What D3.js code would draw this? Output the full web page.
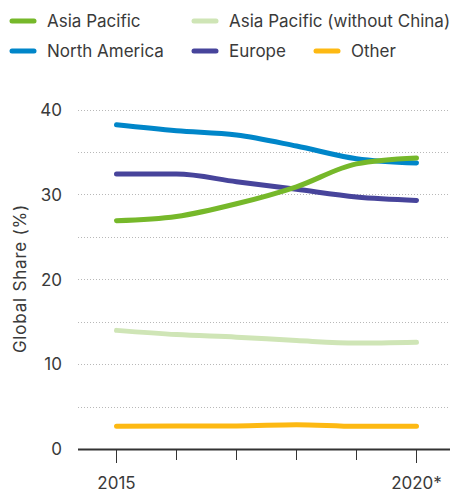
<!DOCTYPE html>
<html><head><meta charset="utf-8">
<script src="https://cdn.jsdelivr.net/npm/d3@7"></script>
<style>
html,body{margin:0;padding:0;background:#fff;}
svg{display:block;font-family:Inter, Roboto, sans-serif;}
</style></head>
<body>
<svg id="chart" width="450" height="494"></svg>
<script>
const years = [2015, 2016, 2017, 2018, 2019, 2020];
const yearLabels = ["2015", "", "", "", "", "2020*"];
const seriesNames = ["Asia Pacific", "Asia Pacific (without China)", "North America", "Europe", "Other"];
const asiaPacific = [26.9, 27.4, 28.9, 30.9, 33.6, 34.3];
const asiaPacificExChina = [14.0, 13.5, 13.2, 12.8, 12.5, 12.6];
const northAmerica = [38.2, 37.5, 37.0, 35.7, 34.2, 33.7];
const europe = [32.4, 32.4, 31.5, 30.6, 29.7, 29.3];
const other = [2.7, 2.75, 2.75, 2.9, 2.7, 2.7];
const yTicks = [0, 10, 20, 30, 40];
const gridTicks = [5, 10, 15, 20, 25, 30, 35, 40];

const colors = {
  "Asia Pacific": "#76b82a",
  "Asia Pacific (without China)": "#cfe5b6",
  "North America": "#0086c9",
  "Europe": "#47449b",
  "Other": "#fdb913"
};
const seriesData = {
  "Asia Pacific": asiaPacific,
  "Asia Pacific (without China)": asiaPacificExChina,
  "North America": northAmerica,
  "Europe": europe,
  "Other": other
};

const svg = d3.select("#chart");
const x = d3.scalePoint().domain(years).range([116.5, 416.5]);
const y = d3.scaleLinear().domain([0, 40]).range([449.3, 109.5]);

// gridlines
svg.append("g").selectAll("line").data(gridTicks).join("line")
  .attr("x1", 78).attr("x2", 450)
  .attr("y1", d => Math.round(y(d)) + 0.5).attr("y2", d => Math.round(y(d)) + 0.5)
  .attr("stroke", "#b8b8b8").attr("stroke-width", 1).attr("stroke-dasharray", "1,2");

// y labels
svg.append("g").selectAll("text").data(yTicks).join("text")
  .attr("x", 62).attr("y", d => y(d)).attr("dy", "0.36em")
  .attr("text-anchor", "end").attr("font-size", 17).attr("fill", "#3a3a3a")
  .text(d => d);

// y title
svg.append("text")
  .attr("transform", "translate(26,278.5) rotate(-90)")
  .attr("text-anchor", "middle").attr("font-size", 17).attr("fill", "#3a3a3a")
  .attr("letter-spacing", 0.8)
  .text("Global Share (%)");

// lines
const line = d3.line().x((d, i) => x(years[i])).y(d => y(d)).curve(d3.curveMonotoneX);
const order = ["Asia Pacific (without China)", "Other", "Europe", "North America", "Asia Pacific"];
svg.append("g").selectAll("path").data(order).join("path")
  .attr("d", n => line(seriesData[n]))
  .attr("fill", "none").attr("stroke", n => colors[n])
  .attr("stroke-width", 5).attr("stroke-linecap", "round").attr("stroke-linejoin", "round");

// x axis
svg.append("line").attr("x1", 78).attr("x2", 450).attr("y1", 449.5).attr("y2", 449.5)
  .attr("stroke", "#333").attr("stroke-width", 2);
svg.append("g").selectAll("line").data(years).join("line")
  .attr("x1", d => x(d)).attr("x2", d => x(d))
  .attr("y1", 449.5).attr("y2", (d, i) => (i === 0 || i === years.length - 1) ? 463 : 460)
  .attr("stroke", "#333").attr("stroke-width", 1);
svg.append("g").selectAll("text").data(years).join("text")
  .attr("x", d => x(d)).attr("y", 489)
  .attr("text-anchor", "middle").attr("font-size", 17).attr("fill", "#3a3a3a")
  .text((d, i) => yearLabels[i]);

// legend
const legendPos = [
  {n: "Asia Pacific", x: 10, y: 21},
  {n: "Asia Pacific (without China)", x: 192, y: 21},
  {n: "North America", x: 10, y: 51},
  {n: "Europe", x: 192, y: 51},
  {n: "Other", x: 314, y: 51}
];
const lg = svg.append("g").selectAll("g").data(legendPos).join("g")
  .attr("transform", d => `translate(${d.x},${d.y})`);
lg.append("line").attr("x1", 2).attr("x2", 24).attr("y1", 0).attr("y2", 0)
  .attr("stroke", d => colors[d.n]).attr("stroke-width", 5).attr("stroke-linecap", "round");
lg.append("text").attr("x", 37).attr("y", 0).attr("dy", "0.36em")
  .attr("font-size", 17).attr("fill", "#3a3a3a").text(d => d.n);
</script>
</body></html>
